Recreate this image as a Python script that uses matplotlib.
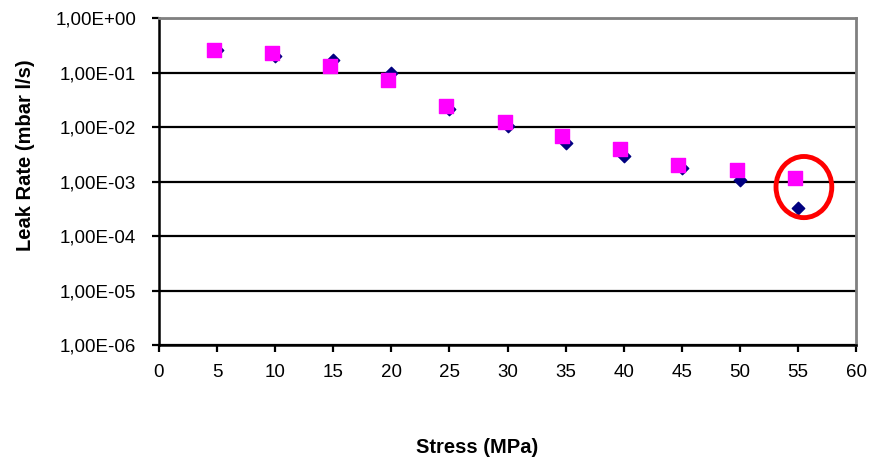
import numpy as np
import matplotlib.pyplot as plt
from matplotlib.patches import Ellipse
from matplotlib.ticker import FixedLocator, NullLocator, FuncFormatter

plt.rcParams['font.family'] = ['Liberation Sans', 'DejaVu Sans']

# series 1 (navy diamonds)
stress_a = [5, 10, 15, 20, 25, 30, 35, 40, 45, 50, 55]
leak_a = [0.26, 0.20, 0.17, 0.10, 0.0214, 0.0105, 0.0051, 0.0029, 0.00178, 0.00107, 0.00032]

# series 2 (magenta squares)
stress_b = [4.7, 9.7, 14.7, 19.7, 24.7, 29.8, 34.7, 39.7, 44.7, 49.7, 54.7]
leak_b = [0.259, 0.228, 0.132, 0.073, 0.0243, 0.0124, 0.00684, 0.00397, 0.0020, 0.00162, 0.00115]

y_ticks = [1e-6, 1e-5, 1e-4, 1e-3, 1e-2, 1e-1, 1e0]


def excel_fmt(v, pos):
    s = f"{v:.2E}"
    mant, exp = s.split("E")
    sign = exp[0]
    return f"{mant.replace('.', ',')}E{sign}{int(exp[1:]):02d}"


fig = plt.figure(figsize=(8.71, 4.58), dpi=100)
ax = fig.add_axes([0.1825, 0.2467, 0.8005, 0.714])

ax.scatter(stress_a, leak_a, marker="D", s=40, color="#000080", zorder=3)
ax.scatter(stress_b, leak_b, marker="s", s=95, color="#FF00FF", zorder=4)

ax.set_yscale("log")
ax.set_ylim(1e-6, 1e0)
ax.set_xlim(0, 60)
ax.set_xticks(range(0, 61, 5))
ax.yaxis.set_major_locator(FixedLocator(y_ticks))
ax.yaxis.set_minor_locator(NullLocator())
ax.yaxis.set_major_formatter(FuncFormatter(excel_fmt))

ax.grid(axis="y", color="black", linewidth=1.6)
ax.set_axisbelow(True)

for side in ["left", "bottom"]:
    ax.spines[side].set_color("black")
    ax.spines[side].set_linewidth(1.8)
for side in ["top", "right"]:
    ax.spines[side].set_color("#808080")
    ax.spines[side].set_linewidth(2.0)

ax.tick_params(axis="both", direction="out", length=5, width=1.6, labelsize=13.5, color="black")
ax.tick_params(axis="x", pad=9)
ax.tick_params(axis="y", pad=11.5)

ax.set_ylabel("Leak Rate (mbar l/s)", fontsize=14.5, fontweight="bold")
ax.yaxis.set_label_coords(-0.192, 0.58)
ax.yaxis.label.set_verticalalignment("center")
ax.set_xlabel("Stress (MPa)", fontsize=14.5, fontweight="bold")
ax.xaxis.set_label_coords(0.456, -0.312)
ax.xaxis.label.set_verticalalignment("center")

# red circle highlighting the last point
circ = Ellipse((0.925, 0.483), 0.080, 0.187, transform=ax.transAxes,
               fill=False, edgecolor="#FF0000", linewidth=3.5, zorder=5, clip_on=False)
ax.add_patch(circ)

fig.savefig("out.png", dpi=100)
